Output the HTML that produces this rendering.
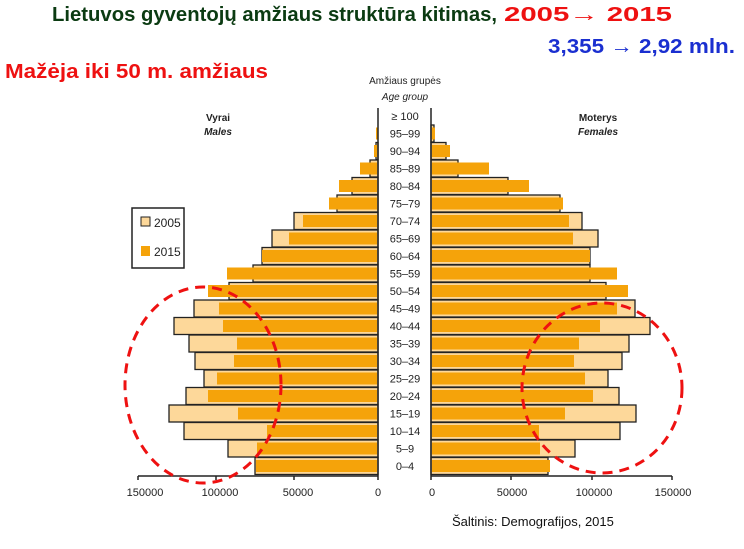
<!DOCTYPE html>
<html><head><meta charset="utf-8"><style>body{margin:0;background:#fff}svg{display:block}.o{fill:#fdd89a;stroke:#222;stroke-width:1.3}.f{fill:#f5a30a}.lb{font-size:11px;fill:#222;text-anchor:middle}</style></head>
<body>
<svg width="744" height="549" viewBox="0 0 744 549" xmlns="http://www.w3.org/2000/svg" font-family="Liberation Sans, sans-serif">
<text x="52" y="21" font-size="20" font-weight="bold" fill="#0b3b12" textLength="445" lengthAdjust="spacingAndGlyphs">Lietuvos gyventojų amžiaus struktūra kitimas,</text>
<text x="504" y="21" font-size="20" font-weight="bold" fill="#ee1111" textLength="168" lengthAdjust="spacingAndGlyphs">2005→ 2015</text>
<text x="548" y="53" font-size="20" font-weight="bold" fill="#1a2fd0" textLength="187" lengthAdjust="spacingAndGlyphs">3,355 → 2,92 mln.</text>
<text x="5" y="78" font-size="20" font-weight="bold" fill="#ee1111" textLength="263" lengthAdjust="spacingAndGlyphs">Mažėja iki 50 m. amžiaus</text>
<text x="405" y="84" font-size="10" text-anchor="middle" fill="#222">Amžiaus grupės</text>
<text x="405" y="100" font-size="10" font-style="italic" text-anchor="middle" fill="#222">Age group</text>
<text x="218" y="121" font-size="10" font-weight="bold" text-anchor="middle" fill="#222">Vyrai</text>
<text x="218" y="135" font-size="10" font-weight="bold" font-style="italic" text-anchor="middle" fill="#222">Males</text>
<text x="598" y="121" font-size="10" font-weight="bold" text-anchor="middle" fill="#222">Moterys</text>
<text x="598" y="135" font-size="10" font-weight="bold" font-style="italic" text-anchor="middle" fill="#222">Females</text>
<rect x="132" y="208" width="52" height="60" fill="#fff" stroke="#222" stroke-width="1.5"/>
<rect x="141" y="217" width="9" height="9" fill="#fdd89a" stroke="#222"/>
<text x="154" y="227" font-size="12" fill="#222">2005</text>
<rect x="141" y="246" width="9" height="10" fill="#f5a30a"/>
<text x="154" y="256" font-size="12" fill="#222">2015</text>
<!-- left -->
<rect class="o" x="255" y="457.5" width="123" height="17"/><rect class="f" x="256" y="460" width="121" height="12"/>
<rect class="o" x="228" y="440" width="150" height="17"/><rect class="f" x="257" y="442.5" width="120" height="12"/>
<rect class="o" x="184" y="422.5" width="194" height="17"/><rect class="f" x="267" y="425" width="110" height="12"/>
<rect class="o" x="169" y="405" width="209" height="17"/><rect class="f" x="238" y="407.5" width="139" height="12"/>
<rect class="o" x="186" y="387.5" width="192" height="17"/><rect class="f" x="208" y="390" width="169" height="12"/>
<rect class="o" x="204" y="370" width="174" height="17"/><rect class="f" x="217" y="372.5" width="160" height="12"/>
<rect class="o" x="195" y="352.5" width="183" height="17"/><rect class="f" x="234" y="355" width="143" height="12"/>
<rect class="o" x="189" y="335" width="189" height="17"/><rect class="f" x="237" y="337.5" width="140" height="12"/>
<rect class="o" x="174" y="317.5" width="204" height="17"/><rect class="f" x="223" y="320" width="154" height="12"/>
<rect class="o" x="194" y="300" width="184" height="17"/><rect class="f" x="219" y="302.5" width="158" height="12"/>
<rect class="o" x="229" y="282.5" width="149" height="17"/><rect class="f" x="208" y="285" width="169" height="12"/>
<rect class="o" x="253" y="265" width="125" height="17"/><rect class="f" x="227" y="267.5" width="150" height="12"/>
<rect class="o" x="262" y="247.5" width="116" height="17"/><rect class="f" x="262" y="250" width="115" height="12"/>
<rect class="o" x="272" y="230" width="106" height="17"/><rect class="f" x="289" y="232.5" width="88" height="12"/>
<rect class="o" x="294" y="212.5" width="84" height="17"/><rect class="f" x="303" y="215" width="74" height="12"/>
<rect class="o" x="337" y="195" width="41" height="17"/><rect class="f" x="329" y="197.5" width="48" height="12"/>
<rect class="o" x="352" y="177.5" width="26" height="17"/><rect class="f" x="339" y="180" width="38" height="12"/>
<rect class="o" x="370" y="160" width="8" height="17"/><rect class="f" x="360" y="162.5" width="17" height="12"/>
<rect class="o" x="376" y="142.5" width="2" height="17"/><rect class="f" x="374" y="145" width="3" height="12"/>
<rect class="f" x="376" y="127.5" width="1.5" height="12"/>
<!-- right -->
<rect class="o" x="431" y="457.5" width="117" height="17"/><rect class="f" x="432" y="460" width="118" height="12"/>
<rect class="o" x="431" y="440" width="144" height="17"/><rect class="f" x="432" y="442.5" width="108" height="12"/>
<rect class="o" x="431" y="422.5" width="189" height="17"/><rect class="f" x="432" y="425" width="107" height="12"/>
<rect class="o" x="431" y="405" width="205" height="17"/><rect class="f" x="432" y="407.5" width="133" height="12"/>
<rect class="o" x="431" y="387.5" width="188" height="17"/><rect class="f" x="432" y="390" width="161" height="12"/>
<rect class="o" x="431" y="370" width="177" height="17"/><rect class="f" x="432" y="372.5" width="153" height="12"/>
<rect class="o" x="431" y="352.5" width="191" height="17"/><rect class="f" x="432" y="355" width="142" height="12"/>
<rect class="o" x="431" y="335" width="198" height="17"/><rect class="f" x="432" y="337.5" width="147" height="12"/>
<rect class="o" x="431" y="317.5" width="219" height="17"/><rect class="f" x="432" y="320" width="168" height="12"/>
<rect class="o" x="431" y="300" width="204" height="17"/><rect class="f" x="432" y="302.5" width="185" height="12"/>
<rect class="o" x="431" y="282.5" width="175" height="17"/><rect class="f" x="432" y="285" width="196" height="12"/>
<rect class="o" x="431" y="265" width="159" height="17"/><rect class="f" x="432" y="267.5" width="185" height="12"/>
<rect class="o" x="431" y="247.5" width="159" height="17"/><rect class="f" x="432" y="250" width="158" height="12"/>
<rect class="o" x="431" y="230" width="167" height="17"/><rect class="f" x="432" y="232.5" width="141" height="12"/>
<rect class="o" x="431" y="212.5" width="151" height="17"/><rect class="f" x="432" y="215" width="137" height="12"/>
<rect class="o" x="431" y="195" width="129" height="17"/><rect class="f" x="432" y="197.5" width="131" height="12"/>
<rect class="o" x="431" y="177.5" width="77" height="17"/><rect class="f" x="432" y="180" width="97" height="12"/>
<rect class="o" x="431" y="160" width="27" height="17"/><rect class="f" x="432" y="162.5" width="57" height="12"/>
<rect class="o" x="431" y="142.5" width="15" height="17"/><rect class="f" x="432" y="145" width="18" height="12"/>
<rect class="o" x="431" y="125" width="3" height="17"/><rect class="f" x="432" y="127.5" width="3" height="12"/>
<!-- labels -->
<text class="lb" x="405" y="470">0–4</text>
<text class="lb" x="405" y="452.5">5–9</text>
<text class="lb" x="405" y="435">10–14</text>
<text class="lb" x="405" y="417.5">15–19</text>
<text class="lb" x="405" y="400">20–24</text>
<text class="lb" x="405" y="382.5">25–29</text>
<text class="lb" x="405" y="365">30–34</text>
<text class="lb" x="405" y="347.5">35–39</text>
<text class="lb" x="405" y="330">40–44</text>
<text class="lb" x="405" y="312.5">45–49</text>
<text class="lb" x="405" y="295">50–54</text>
<text class="lb" x="405" y="277.5">55–59</text>
<text class="lb" x="405" y="260">60–64</text>
<text class="lb" x="405" y="242.5">65–69</text>
<text class="lb" x="405" y="225">70–74</text>
<text class="lb" x="405" y="207.5">75–79</text>
<text class="lb" x="405" y="190">80–84</text>
<text class="lb" x="405" y="172.5">85–89</text>
<text class="lb" x="405" y="155">90–94</text>
<text class="lb" x="405" y="137.5">95–99</text>
<text class="lb" x="405" y="120">≥ 100</text>
<g stroke="#222" stroke-width="1.5" fill="none">
<line x1="378" y1="108" x2="378" y2="476"/><line x1="431" y1="108" x2="431" y2="476"/>
<line x1="138" y1="476" x2="378" y2="476"/><line x1="431" y1="476" x2="672" y2="476"/>
<line x1="138" y1="476" x2="138" y2="480"/><line x1="216" y1="476" x2="216" y2="480"/><line x1="294" y1="476" x2="294" y2="480"/><line x1="378" y1="476" x2="378" y2="480"/>
<line x1="431" y1="476" x2="431" y2="480"/><line x1="511" y1="476" x2="511" y2="480"/><line x1="592" y1="476" x2="592" y2="480"/><line x1="672" y1="476" x2="672" y2="480"/>
</g>
<g font-size="11" fill="#222" text-anchor="middle">
<text x="145" y="496">150000</text><text x="220" y="496">100000</text><text x="298" y="496">50000</text><text x="378" y="496">0</text>
<text x="432" y="496">0</text><text x="512" y="496">50000</text><text x="594" y="496">100000</text><text x="673" y="496">150000</text>
</g>
<text x="452" y="526" font-size="13" fill="#111">Šaltinis: Demografijos, 2015</text>
<ellipse cx="203" cy="385" rx="78" ry="98" fill="none" stroke="#ee1111" stroke-width="3" stroke-dasharray="10,7"/>
<ellipse cx="602" cy="388" rx="80" ry="85" fill="none" stroke="#ee1111" stroke-width="3" stroke-dasharray="10,7"/>
</svg>
</body></html>
